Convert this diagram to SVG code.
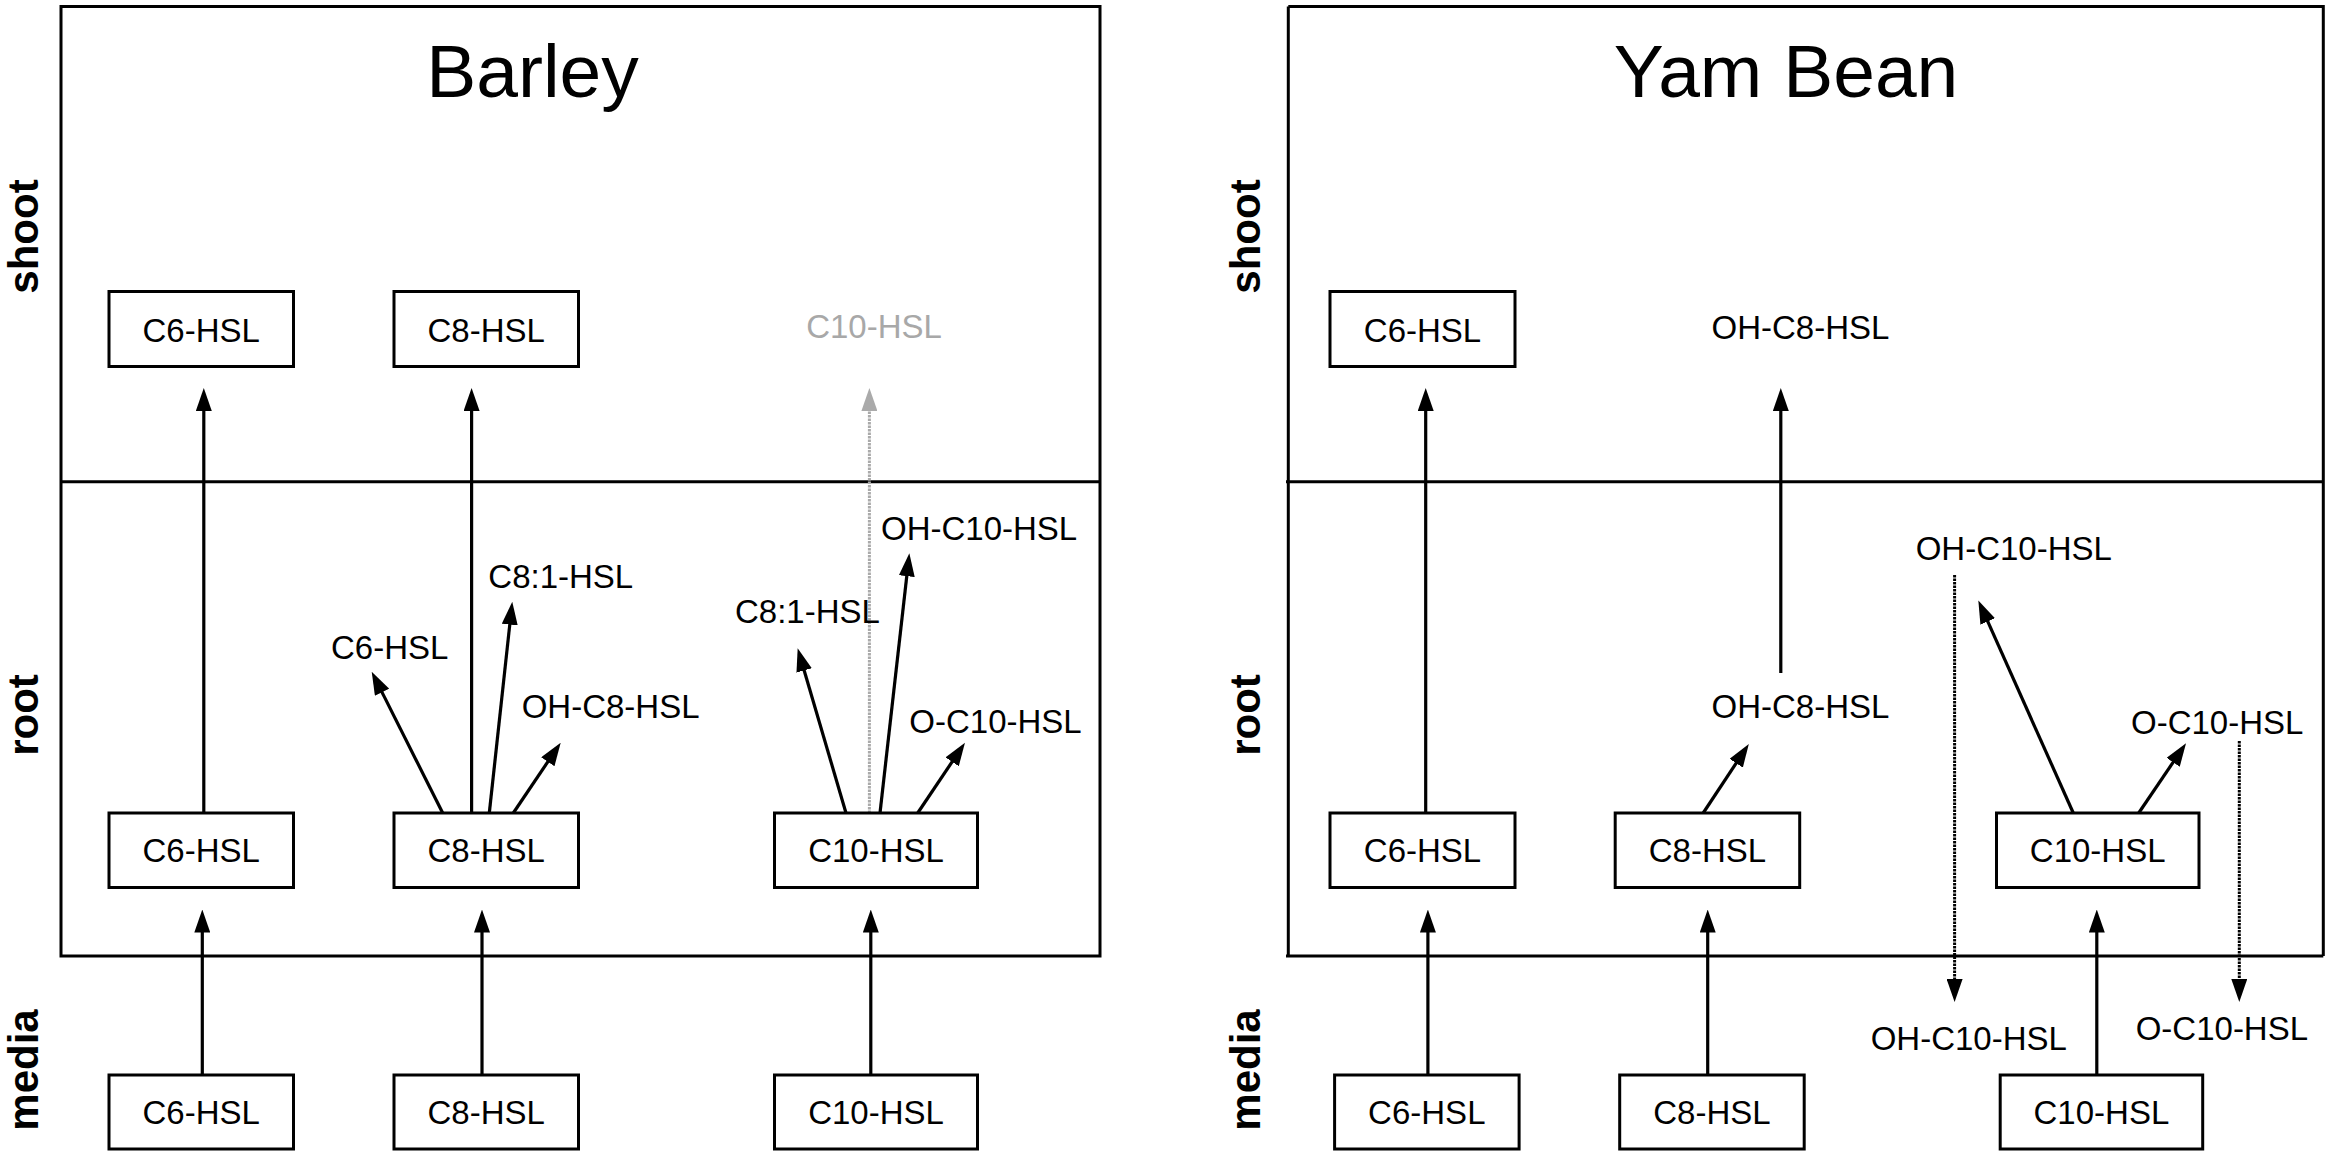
<svg xmlns="http://www.w3.org/2000/svg" width="2333" height="1158" viewBox="0 0 2333 1158">
<style>
text{font-family:"Liberation Sans",Arial,Helvetica,sans-serif;fill:#000}
.t{font-size:33px}
.c{text-anchor:middle}
.title{font-size:75px;text-anchor:middle}
.side{font-size:42px;font-weight:bold;text-anchor:middle}
.box{fill:#fff;stroke:#000;stroke-width:3}
.frame{fill:none;stroke:#000;stroke-width:3}
.ln{fill:none;stroke:#000;stroke-width:3.2}
.dot{fill:none;stroke:#000;stroke-width:3;stroke-dasharray:2.5 1}
.gdot{fill:none;stroke:#aaa;stroke-width:3;stroke-dasharray:2.5 1}
.gray{fill:#a8a8a8}
</style>
<defs>
<marker id="ah" markerUnits="userSpaceOnUse" markerWidth="23" markerHeight="16" refX="3" refY="8" orient="auto" viewBox="0 0 23 16"><path d="M0,0 L23,8 L0,16 Z" fill="#000"/></marker>
<marker id="ahg" markerUnits="userSpaceOnUse" markerWidth="23" markerHeight="16" refX="3" refY="8" orient="auto" viewBox="0 0 23 16"><path d="M0,0 L23,8 L0,16 Z" fill="#aaa"/></marker>
</defs>
<rect width="2333" height="1158" fill="#fff"/>

<g id="barley-frame">
<rect class="frame" x="61" y="6.5" width="1039" height="949.5"/>
<line class="frame" x1="61" y1="481.7" x2="1100" y2="481.7"/>
<text class="title" x="532.5" y="97">Barley</text>
</g>
<g id="yam-frame">
<line class="frame" x1="1288.3" y1="6.5" x2="1288.3" y2="956"/>
<polyline class="frame" points="1288.3,6.5 2323.3,6.5 2323.3,956"/>
<line class="frame" x1="1286" y1="481.7" x2="2323.3" y2="481.7"/>
<line class="frame" x1="1286" y1="956" x2="2323.3" y2="956"/>
<text class="title" x="1786" y="97">Yam Bean</text>
</g>

<g id="side-labels">
<text class="side" x="38" y="236.5" transform="rotate(-90 38 236.5)">shoot</text>
<text class="side" x="38" y="715" transform="rotate(-90 38 715)">root</text>
<text class="side" x="38" y="1070" transform="rotate(-90 38 1070)">media</text>
<text class="side" x="1260" y="236.5" transform="rotate(-90 1260 236.5)">shoot</text>
<text class="side" x="1260" y="715" transform="rotate(-90 1260 715)">root</text>
<text class="side" x="1260" y="1070" transform="rotate(-90 1260 1070)">media</text>
</g>

<g id="connectors">
<!-- Barley -->
<line class="ln" x1="203.8" y1="813" x2="203.8" y2="408" marker-end="url(#ah)"/>
<line class="ln" x1="471.6" y1="813" x2="471.6" y2="408" marker-end="url(#ah)"/>
<line class="gdot" x1="869.4" y1="813" x2="869.4" y2="408" marker-end="url(#ahg)"/>
<line class="ln" x1="442.7" y1="813" x2="380.7" y2="689.6" marker-end="url(#ah)"/>
<line class="ln" x1="489.3" y1="813" x2="510.1" y2="621.6" marker-end="url(#ah)"/>
<line class="ln" x1="513.3" y1="813" x2="549.5" y2="759.3" marker-end="url(#ah)"/>
<line class="ln" x1="846" y1="813" x2="803.3" y2="667.5" marker-end="url(#ah)"/>
<line class="ln" x1="880" y1="813" x2="907.1" y2="573.2" marker-end="url(#ah)"/>
<line class="ln" x1="917.7" y1="813" x2="953.8" y2="759.3" marker-end="url(#ah)"/>
<line class="ln" x1="202.3" y1="1075" x2="202.3" y2="929.5" marker-end="url(#ah)"/>
<line class="ln" x1="482" y1="1075" x2="482" y2="929.5" marker-end="url(#ah)"/>
<line class="ln" x1="870.8" y1="1075" x2="870.8" y2="929.5" marker-end="url(#ah)"/>
<!-- Yam Bean -->
<line class="ln" x1="1425.7" y1="813" x2="1425.7" y2="408" marker-end="url(#ah)"/>
<line class="ln" x1="1780.8" y1="673" x2="1780.8" y2="408" marker-end="url(#ah)"/>
<line class="ln" x1="1703.2" y1="813" x2="1737.8" y2="760.7" marker-end="url(#ah)"/>
<line class="ln" x1="2073.3" y1="813" x2="1986.5" y2="618.7" marker-end="url(#ah)"/>
<line class="ln" x1="2138.7" y1="813" x2="2174.8" y2="759.8" marker-end="url(#ah)"/>
<line class="dot" x1="1954.6" y1="575" x2="1954.6" y2="982" marker-end="url(#ah)"/>
<line class="dot" x1="2239.3" y1="741" x2="2239.3" y2="982" marker-end="url(#ah)"/>
<line class="ln" x1="1427.9" y1="1075" x2="1427.9" y2="929.5" marker-end="url(#ah)"/>
<line class="ln" x1="1707.7" y1="1075" x2="1707.7" y2="929.5" marker-end="url(#ah)"/>
<line class="ln" x1="2096.8" y1="1075" x2="2096.8" y2="929.5" marker-end="url(#ah)"/>
</g>

<!-- Barley nodes -->
<g id="b-shoot-c6"><rect class="box" x="109" y="291.5" width="184.5" height="75"/><text class="t c" x="201.2" y="341.5">C6-HSL</text></g>
<g id="b-shoot-c8"><rect class="box" x="394" y="291.5" width="184.5" height="75"/><text class="t c" x="486.2" y="341.5">C8-HSL</text></g>
<g id="b-shoot-c10"><text class="t c gray" x="874" y="338">C10-HSL</text></g>
<g id="b-root-c6"><rect class="box" x="109" y="813" width="184.5" height="74.5"/><text class="t c" x="201.2" y="861.7">C6-HSL</text></g>
<g id="b-root-c8"><rect class="box" x="394" y="813" width="184.5" height="74.5"/><text class="t c" x="486.2" y="861.7">C8-HSL</text></g>
<g id="b-root-c10"><rect class="box" x="774.5" y="813" width="203" height="74.5"/><text class="t c" x="876" y="861.7">C10-HSL</text></g>
<g id="b-media-c6"><rect class="box" x="109" y="1075" width="184.5" height="74"/><text class="t c" x="201.2" y="1124">C6-HSL</text></g>
<g id="b-media-c8"><rect class="box" x="394" y="1075" width="184.5" height="74"/><text class="t c" x="486.2" y="1124">C8-HSL</text></g>
<g id="b-media-c10"><rect class="box" x="774.5" y="1075" width="203" height="74"/><text class="t c" x="876" y="1124">C10-HSL</text></g>
<g id="b-lbl-c6"><text class="t" x="331" y="659">C6-HSL</text></g>
<g id="b-lbl-c81a"><text class="t" x="488.3" y="588.3">C8:1-HSL</text></g>
<g id="b-lbl-ohc8"><text class="t" x="521.7" y="718.3">OH-C8-HSL</text></g>
<g id="b-lbl-c81b"><text class="t" x="735" y="623.3">C8:1-HSL</text></g>
<g id="b-lbl-ohc10"><text class="t" x="881" y="540">OH-C10-HSL</text></g>
<g id="b-lbl-oc10"><text class="t" x="909.3" y="733.3">O-C10-HSL</text></g>

<!-- Yam Bean nodes -->
<g id="y-shoot-c6"><rect class="box" x="1330" y="291.5" width="185" height="75"/><text class="t c" x="1422.5" y="341.5">C6-HSL</text></g>
<g id="y-shoot-ohc8"><text class="t" x="1711.5" y="338.5">OH-C8-HSL</text></g>
<g id="y-root-c6"><rect class="box" x="1330" y="813" width="185" height="74.5"/><text class="t c" x="1422.5" y="861.7">C6-HSL</text></g>
<g id="y-root-c8"><rect class="box" x="1615.2" y="813" width="184.5" height="74.5"/><text class="t c" x="1707.4" y="861.7">C8-HSL</text></g>
<g id="y-root-c10"><rect class="box" x="1996.5" y="813" width="202.5" height="74.5"/><text class="t c" x="2097.7" y="861.7">C10-HSL</text></g>
<g id="y-media-c6"><rect class="box" x="1334.6" y="1075" width="184.5" height="74"/><text class="t c" x="1426.8" y="1124">C6-HSL</text></g>
<g id="y-media-c8"><rect class="box" x="1619.7" y="1075" width="184.5" height="74"/><text class="t c" x="1711.9" y="1124">C8-HSL</text></g>
<g id="y-media-c10"><rect class="box" x="2000.2" y="1075" width="202.5" height="74"/><text class="t c" x="2101.4" y="1124">C10-HSL</text></g>
<g id="y-lbl-ohc8"><text class="t" x="1711.5" y="718">OH-C8-HSL</text></g>
<g id="y-lbl-ohc10"><text class="t" x="1915.7" y="559.5">OH-C10-HSL</text></g>
<g id="y-lbl-oc10"><text class="t" x="2131" y="733.6">O-C10-HSL</text></g>
<g id="y-media-ohc10"><text class="t" x="1870.7" y="1049.6">OH-C10-HSL</text></g>
<g id="y-media-oc10"><text class="t" x="2135.7" y="1039.6">O-C10-HSL</text></g>
</svg>
